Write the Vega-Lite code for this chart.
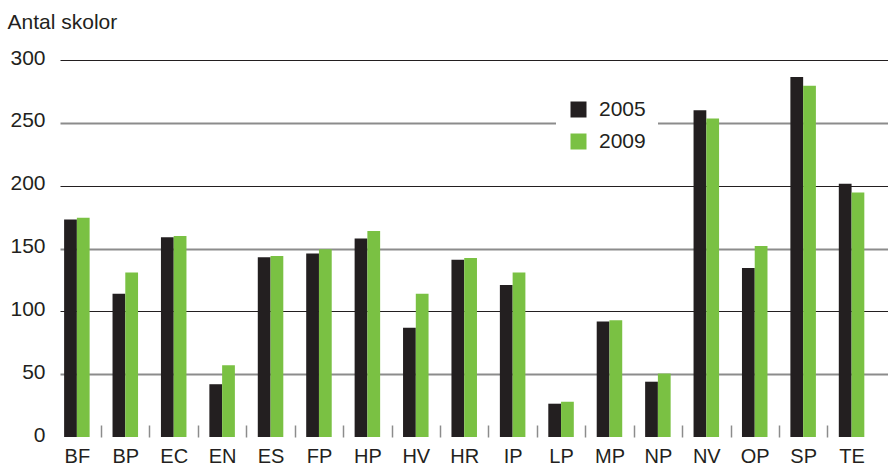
{
  "$schema": "https://vega.github.io/schema/vega-lite/v6.json",
  "width": 828,
  "height": 377,
  "autosize": {"type": "none"},
  "padding": {"left": 60, "top": 60, "right": 0, "bottom": 31},
  "background": "white",
  "config": {
    "view": {"stroke": null},
    "font": "Liberation Sans",
    "text": {"color": "#231f20"}
  },
  "data": {
    "values": [
      {"prog": "BF", "year": "2005", "antal": 173},
      {"prog": "BF", "year": "2009", "antal": 174.5},
      {"prog": "BP", "year": "2005", "antal": 114},
      {"prog": "BP", "year": "2009", "antal": 131},
      {"prog": "EC", "year": "2005", "antal": 159},
      {"prog": "EC", "year": "2009", "antal": 160},
      {"prog": "EN", "year": "2005", "antal": 42},
      {"prog": "EN", "year": "2009", "antal": 57},
      {"prog": "ES", "year": "2005", "antal": 143},
      {"prog": "ES", "year": "2009", "antal": 144},
      {"prog": "FP", "year": "2005", "antal": 146},
      {"prog": "FP", "year": "2009", "antal": 149.5},
      {"prog": "HP", "year": "2005", "antal": 158},
      {"prog": "HP", "year": "2009", "antal": 164},
      {"prog": "HV", "year": "2005", "antal": 87},
      {"prog": "HV", "year": "2009", "antal": 114},
      {"prog": "HR", "year": "2005", "antal": 141},
      {"prog": "HR", "year": "2009", "antal": 142.5},
      {"prog": "IP", "year": "2005", "antal": 121},
      {"prog": "IP", "year": "2009", "antal": 131},
      {"prog": "LP", "year": "2005", "antal": 26.5},
      {"prog": "LP", "year": "2009", "antal": 28},
      {"prog": "MP", "year": "2005", "antal": 92},
      {"prog": "MP", "year": "2009", "antal": 93},
      {"prog": "NP", "year": "2005", "antal": 44},
      {"prog": "NP", "year": "2009", "antal": 50.5},
      {"prog": "NV", "year": "2005", "antal": 260},
      {"prog": "NV", "year": "2009", "antal": 253.5},
      {"prog": "OP", "year": "2005", "antal": 134.5},
      {"prog": "OP", "year": "2009", "antal": 152},
      {"prog": "SP", "year": "2005", "antal": 286.5},
      {"prog": "SP", "year": "2009", "antal": 279.5},
      {"prog": "TE", "year": "2005", "antal": 201.5},
      {"prog": "TE", "year": "2009", "antal": 194.5}
    ]
  },
  "mark": {"type": "bar"},
  "encoding": {
    "x": {
      "field": "prog",
      "type": "nominal",
      "sort": null,
      "scale": {"paddingInner": 0.473, "paddingOuter": 0.287, "align": 0.148},
      "axis": {
        "title": null,
        "domain": false,
        "grid": false,
        "labelAngle": 0,
        "labelFontSize": 20,
        "labelColor": "#231f20",
        "labelPadding": 9,
        "labelBaseline": "top",
        "offset": -12,
        "ticks": true,
        "tickSize": 12,
        "tickWidth": 1.5,
        "tickColor": "#8c8c8c",
        "tickOffset": -24.21,
        "labelOffset": 24.21,
        "tickOpacity": {"condition": {"test": "datum.value === 'BF'", "value": 0}, "value": 1}
      }
    },
    "xOffset": {"field": "year", "type": "nominal"},
    "y": {
      "field": "antal",
      "type": "quantitative",
      "scale": {"domain": [0, 300], "nice": false, "zero": true},
      "axis": {
        "title": "Antal skolor",
        "titleAngle": 0,
        "titleAlign": "left",
        "titleBaseline": "alphabetic",
        "titleX": -53,
        "titleY": -32,
        "titleFontSize": 21,
        "titleFontWeight": "normal",
        "titleColor": "#231f20",
        "values": [0, 50, 100, 150, 200, 250, 300],
        "domain": false,
        "ticks": false,
        "labelFontSize": 21,
        "labelColor": "#231f20",
        "labelPadding": 15,
        "labelOffset": -2,
        "grid": true,
        "gridColor": {"condition": {"test": "datum.value % 100 === 0", "value": "#231f20"}, "value": "#8c8c8c"},
        "gridWidth": {"condition": {"test": "datum.value % 100 === 0", "value": 1}, "value": 1.8},
        "gridOpacity": {"condition": {"test": "datum.value === 0", "value": 0}, "value": 1}
      }
    },
    "color": {
      "field": "year",
      "type": "nominal",
      "scale": {"domain": ["2005", "2009"], "range": ["#231f20", "#7ac143"]},
      "legend": {
        "title": null,
        "orient": "none",
        "legendX": 496,
        "legendY": 27,
        "fillColor": "white",
        "padding": 12,
        "symbolType": "square",
        "symbolSize": 256,
        "symbolStrokeWidth": 0,
        "symbolOpacity": 1,
        "labelFontSize": 21,
        "labelColor": "#231f20",
        "labelOffset": 10,
        "rowPadding": 10
      }
    }
  }
}
